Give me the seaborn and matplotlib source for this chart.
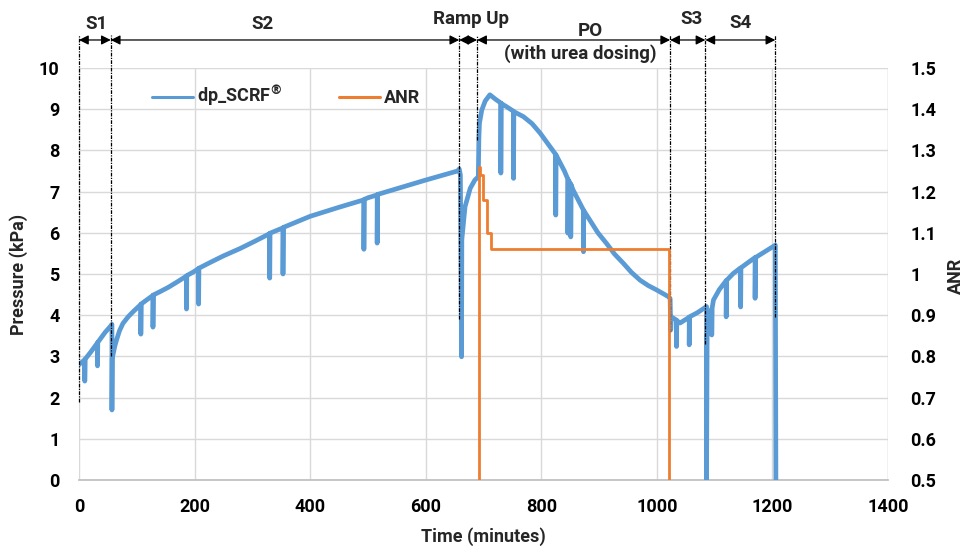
import matplotlib
matplotlib.use("Agg")
import matplotlib.pyplot as plt
from matplotlib.lines import Line2D
import seaborn as sns
import pandas as pd

# ---------------- data ----------------
dp_time = [0, 10, 10, 10.5, 20, 32, 32, 32.5, 45, 55, 57, 57, 57.5, 59, 62, 65, 70, 76, 85, 94,
           107, 107, 107.5, 117, 128, 128, 128.5, 140, 155, 169, 186, 186, 186.5, 198,
           207, 207, 207.5, 227, 250, 279, 305, 330, 330, 330.5, 353, 353, 353.5, 400, 450,
           493, 493, 493.5, 500, 516, 516, 516.5, 550, 600, 655, 658, 660,
           662, 662.5, 668, 677, 685, 691, 692, 693, 697, 703, 711, 720,
           730, 730, 730.5, 740, 752, 752, 752.5, 769, 784, 798, 812, 825, 825, 825.5, 827,
           840, 846, 846, 846.5, 851, 851, 851.5, 855, 873, 873, 873.5, 884,
           898, 913, 927, 942, 956, 971, 985, 1000, 1020, 1023, 1024, 1025, 1034, 1034, 1034.5,
           1040, 1056, 1056, 1056.5, 1070, 1086, 1086, 1087, 1090, 1095, 1095,
           1095.5, 1098, 1108, 1120, 1120, 1120.5, 1121, 1132, 1144, 1145, 1145, 1145.5,
           1158, 1170, 1170, 1170.5, 1173, 1190, 1205, 1206]
dp_pressure = [2.80, 2.92, 2.40, 2.93, 3.10, 3.33, 2.77, 3.34, 3.58, 3.74, 3.78, 1.70, 2.95, 3.05, 3.25, 3.40, 3.62, 3.80, 3.96, 4.09,
               4.26, 3.54, 4.27, 4.37, 4.48, 3.71, 4.49, 4.57, 4.68, 4.80, 4.95, 4.15, 4.96, 5.05,
               5.13, 4.27, 5.14, 5.28, 5.44, 5.62, 5.80, 5.98, 4.90, 5.99, 6.12, 5.00, 6.13, 6.40, 6.62,
               6.80, 5.60, 6.81, 6.85, 6.92, 5.75, 6.93, 7.07, 7.28, 7.50, 7.55, 7.40,
               2.99, 5.83, 6.63, 7.08, 7.28, 7.36, 8.30, 8.66, 8.98, 9.20, 9.35, 9.25,
               9.15, 7.45, 9.14, 9.06, 8.95, 7.32, 8.94, 8.82, 8.65, 8.42, 8.15, 7.90, 6.43, 7.89, 7.85,
               7.50, 7.30, 5.99, 7.29, 7.18, 5.90, 7.17, 7.04, 6.55, 5.54, 6.54, 6.31,
               6.00, 5.74, 5.48, 5.26, 5.04, 4.85, 4.72, 4.61, 4.45, 4.40, 3.64, 3.96, 3.88, 3.24, 3.87,
               3.81, 3.95, 3.28, 3.96, 4.06, 4.21, 0.0, 3.50, 3.90, 4.15, 3.52,
               4.16, 4.37, 4.62, 4.84, 3.96, 4.84, 4.85, 5.01, 5.14, 5.14, 4.20, 5.15,
               5.28, 5.40, 4.41, 5.40, 5.42, 5.57, 5.70, 0.0]

anr_time = [692, 692, 694, 694, 699, 699, 706, 706, 713, 713, 1021, 1021]
anr_value = [0.0, 1.26, 1.26, 1.24, 1.24, 1.18, 1.18, 1.10, 1.10, 1.06, 1.06, 0.0]

stage_labels = ["S1", "S2", "Ramp Up", "PO", "S3", "S4"]
stage_bounds = [0, 55, 658, 689, 1023, 1084, 1205]
marker_bottoms = [1.9, 3.0, 3.9, 8.25, 3.6, 3.3, 3.95]

x_ticks = [0, 200, 400, 600, 800, 1000, 1200, 1400]
p_ticks = list(range(0, 11))
anr_ticks = [0.5, 0.6, 0.7, 0.8, 0.9, 1.0, 1.1, 1.2, 1.3, 1.4, 1.5]

BLUE = "#5B9BD5"
ORANGE = "#ED7D31"

# ---------------- style ----------------
sns.set_theme(style="whitegrid")
plt.rcParams["font.family"] = ["Roboto", "DejaVu Sans"]
plt.rcParams["font.weight"] = "bold"
FS = 13

fig = plt.figure(figsize=(9.66, 5.48), dpi=100)
ax = fig.add_axes([79 / 966, 1 - 480 / 548, 809 / 966, 412 / 548])
ax2 = ax.twinx()

dp_df = pd.DataFrame({"time": dp_time, "pressure": dp_pressure})
anr_df = pd.DataFrame({"time": anr_time, "anr": anr_value})

sns.lineplot(data=dp_df, x="time", y="pressure", ax=ax, sort=False, estimator=None,
             color=BLUE, linewidth=3.4, zorder=3)
sns.lineplot(data=anr_df, x="time", y="anr", ax=ax2, sort=False, estimator=None,
             color=ORANGE, linewidth=2.0, zorder=3)

ax.set_xlim(0, 1400)
ax.set_ylim(0, 10)
ax2.set_ylim(0.5, 1.5)
ax.set_xticks(x_ticks)
ax.set_yticks(p_ticks)
ax2.set_yticks(anr_ticks)
ax2.set_yticklabels([f"{v:g}" for v in anr_ticks])

for a in (ax, ax2):
    for s in a.spines.values():
        s.set_visible(False)
ax2.grid(False)
ax.grid(True, color="#D9D9D9", linewidth=1.0)
ax.spines["bottom"].set_visible(True)
ax.spines["bottom"].set_color("#BFBFBF")
ax.axvline(1400, color="#D9D9D9", linewidth=1.0)

ax.tick_params(axis="x", labelsize=FS, pad=13, length=0, colors="black")
ax.tick_params(axis="y", labelsize=FS, pad=14, length=0, colors="black")
ax2.tick_params(axis="y", labelsize=FS, pad=16, length=0, colors="black")
for lab in ax.get_xticklabels() + ax.get_yticklabels() + ax2.get_yticklabels():
    lab.set_fontweight("bold")

ax.set_xlabel("")
ax.set_ylabel("")
ax2.set_ylabel("")
fig.text(0.5 * (79 + 888) / 966, 1 - 537 / 548, "Time (minutes)", ha="center", va="center",
         fontsize=FS, fontweight="bold")
fig.text(19 / 966, 1 - 274 / 548, "Pressure (kPa)", ha="center", va="center", rotation=90,
         fontsize=FS, fontweight="bold")
fig.text(956 / 966, 1 - 276 / 548, "ANR", ha="center", va="center", rotation=90,
         fontsize=FS, fontweight="bold")

# stage marker lines
y_top = 10.8
for xb, yb in zip(stage_bounds, marker_bottoms):
    ax.plot([xb, xb], [yb, y_top], color="black", linewidth=0.9,
            linestyle=(0, (3, 1, 1, 1)), clip_on=False, zorder=4)

# arrows
y_arrow = 10.68
for x0, x1 in zip(stage_bounds[:-1], stage_bounds[1:]):
    ax.annotate("", xy=(x1, y_arrow), xytext=(x0, y_arrow),
                arrowprops=dict(arrowstyle="<|-|>", color="black", lw=0.9,
                                shrinkA=0, shrinkB=0, mutation_scale=14),
                annotation_clip=False)

# stage labels
label_pos = [(31, 11.08), (317, 11.08), (678, 11.18), (884, 10.9), (1060, 11.18), (1144, 11.1)]
for txt, (lx, ly) in zip(stage_labels, label_pos):
    ax.text(lx, ly, txt, ha="center", va="center", fontsize=FS + 0.5, fontweight="bold",
            clip_on=False)
ax.text(867, 10.36, "(with urea dosing)", ha="center", va="center", fontsize=FS + 0.5,
        fontweight="bold", clip_on=False)

# legend
handles = [Line2D([], [], color=BLUE, linewidth=2.2), Line2D([], [], color=ORANGE, linewidth=2.2)]
leg = ax.legend(handles, [r"dp_SCRF$^{\circledR}$", "ANR"], loc="center left",
                bbox_to_anchor=(0.07, 0.93), ncol=2, frameon=False, fontsize=FS,
                handlelength=2.3, handletextpad=0.2, columnspacing=3.1)
for t in leg.get_texts():
    t.set_fontweight("bold")

fig.savefig("out.png", dpi=100)
